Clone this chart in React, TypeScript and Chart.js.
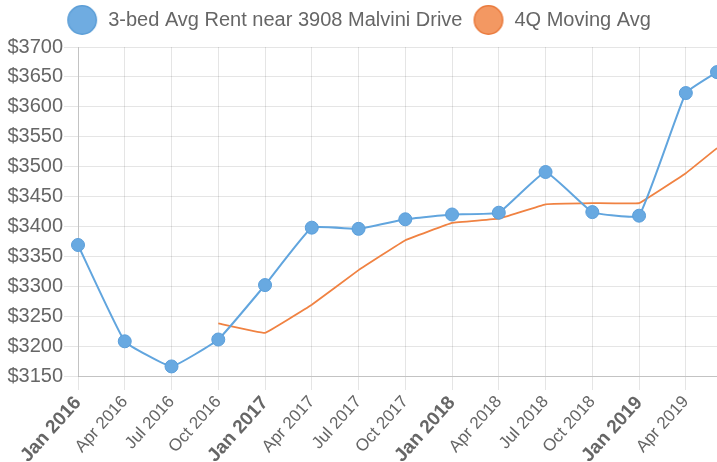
import React, { useEffect, useRef } from 'react';
import { Chart, registerables } from 'chart.js';

Chart.register(...registerables);

// Quarterly observation dates, as months since Jan 2016 (last one is early Jun 2019)
const monthOffsets = [0, 3, 6, 9, 12, 15, 18, 21, 24, 27, 30, 33, 36, 39, 41];
const rentValues = [3369, 3208, 3166, 3211, 3302, 3398, 3396, 3412, 3420, 3423, 3491, 3424, 3418, 3623, 3658];
const movingAvgValues: (number | null)[] = [null, null, null, 3238, 3222, 3269, 3327, 3377, 3406, 3413, 3437, 3439, 3439, 3489, 3531];

const tickMonths = [0, 3, 6, 9, 12, 15, 18, 21, 24, 27, 30, 33, 36, 39];
const tickLabels = [
  'Jan 2016', 'Apr 2016', 'Jul 2016', 'Oct 2016',
  'Jan 2017', 'Apr 2017', 'Jul 2017', 'Oct 2017',
  'Jan 2018', 'Apr 2018', 'Jul 2018', 'Oct 2018',
  'Jan 2019', 'Apr 2019',
];
const majorTickLabels = ['Jan 2016', 'Jan 2017', 'Jan 2018', 'Jan 2019'];

const seriesNames = ['3-bed Avg Rent near 3908 Malvini Drive', '4Q Moving Avg'];

const FONT = '"Helvetica Neue", Helvetica, Arial, "Liberation Sans", sans-serif';

function makeCircle(fill: string, stroke: string): HTMLCanvasElement {
  const c = document.createElement('canvas');
  c.width = 32;
  c.height = 32;
  const g = c.getContext('2d')!;
  g.beginPath();
  g.arc(16, 16, 14.2, 0, Math.PI * 2);
  g.fillStyle = fill;
  g.fill();
  g.lineWidth = 1.5;
  g.strokeStyle = stroke;
  g.stroke();
  return c;
}

export default function App() {
  const canvasRef = useRef<HTMLCanvasElement | null>(null);

  useEffect(() => {
    if (!canvasRef.current) return;
    const blueIcon = makeCircle('rgb(111,172,225)', 'rgb(92,158,215)');
    const orangeIcon = makeCircle('rgb(243,152,98)', 'rgb(234,122,60)');

    const chart = new Chart(canvasRef.current, {
      type: 'line',
      data: {
        datasets: [
          {
            label: seriesNames[0],
            data: monthOffsets.map((m, i) => ({ x: m, y: rentValues[i] })),
            borderColor: 'rgb(97,165,222)',
            backgroundColor: 'rgb(104,169,225)',
            pointBackgroundColor: 'rgb(104,169,225)',
            pointBorderColor: 'rgb(90,158,218)',
            pointBorderWidth: 1,
            pointRadius: 6.5,
            borderWidth: 2,
            tension: 0.1,
            clip: false as any,
          },
          {
            label: seriesNames[1],
            data: monthOffsets.map((m, i) => ({ x: m, y: movingAvgValues[i] as any })),
            borderColor: 'rgb(240,130,66)',
            backgroundColor: 'rgb(243,152,98)',
            pointRadius: 0,
            borderWidth: 1.8,
            tension: 0.05,
            clip: false as any,
          },
        ],
      },
      options: {
        animation: false,
        responsive: true,
        maintainAspectRatio: false,
        layout: { padding: 0, autoPadding: false },
        plugins: {
          tooltip: { enabled: false },
          legend: {
            display: true,
            position: 'top',
            labels: {
              usePointStyle: true,
              pointStyleWidth: 32,
              padding: 10,
              color: '#666',
              font: { family: FONT, size: 20 },
              generateLabels: (ch: any) => {
                const items = Chart.defaults.plugins.legend.labels.generateLabels(ch);
                items.forEach((it: any, i: number) => {
                  it.pointStyle = i === 0 ? blueIcon : orangeIcon;
                });
                return items;
              },
            },
          },
        },
        scales: {
          x: {
            type: 'linear',
            min: 0,
            max: 41,
            afterBuildTicks: (scale: any) => {
              scale.ticks = tickMonths.map((v) => ({ value: v }));
            },
            afterFit: (scale: any) => {
              scale.height = 86;
              scale.paddingRight = 0;
              scale.paddingLeft = 0;
            },
            ticks: {
              autoSkip: false,
              includeBounds: false,
              minRotation: 48,
              maxRotation: 48,
              padding: 2,
              color: '#666',
              callback: (value: any) => {
                const idx = tickMonths.indexOf(Number(value));
                return idx >= 0 ? tickLabels[idx] : '';
              },
              font: (ctx: any) => {
                const v = ctx.tick ? ctx.tick.value : -1;
                const idx = tickMonths.indexOf(v);
                const isMajor = idx >= 0 && majorTickLabels.includes(tickLabels[idx]);
                return isMajor
                  ? { family: FONT, size: 19, weight: 'bold' }
                  : { family: FONT, size: 17 };
              },
            },
            grid: { color: 'rgba(0,0,0,0.1)', tickLength: 14 },
            border: { color: 'rgba(0,0,0,0.15)' },
          },
          xTop: {
            type: 'linear',
            position: 'top',
            display: true,
            grid: { display: false },
            border: { display: false },
            ticks: { display: false },
            afterFit: (scale: any) => {
              scale.height = 7;
              scale.paddingRight = 0;
              scale.paddingLeft = 0;
            },
          },
          y: {
            type: 'linear',
            min: 3150,
            max: 3700,
            afterFit: (scale: any) => {
              scale.width = 78;
            },
            ticks: {
              stepSize: 50,
              padding: 1,
              color: '#666',
              font: { family: FONT, size: 20 },
              callback: (value: any) => '$' + value,
            },
            grid: { color: 'rgba(0,0,0,0.1)', tickLength: 14 },
            border: { color: 'rgba(0,0,0,0.15)' },
          },
        },
      } as any,
    });
    return () => chart.destroy();
  }, []);

  return (
    <div style={{ position: 'fixed', left: 0, top: 0, width: 717, height: 462, overflow: 'hidden', background: '#fff' }}>
      <canvas ref={canvasRef} />
    </div>
  );
}
